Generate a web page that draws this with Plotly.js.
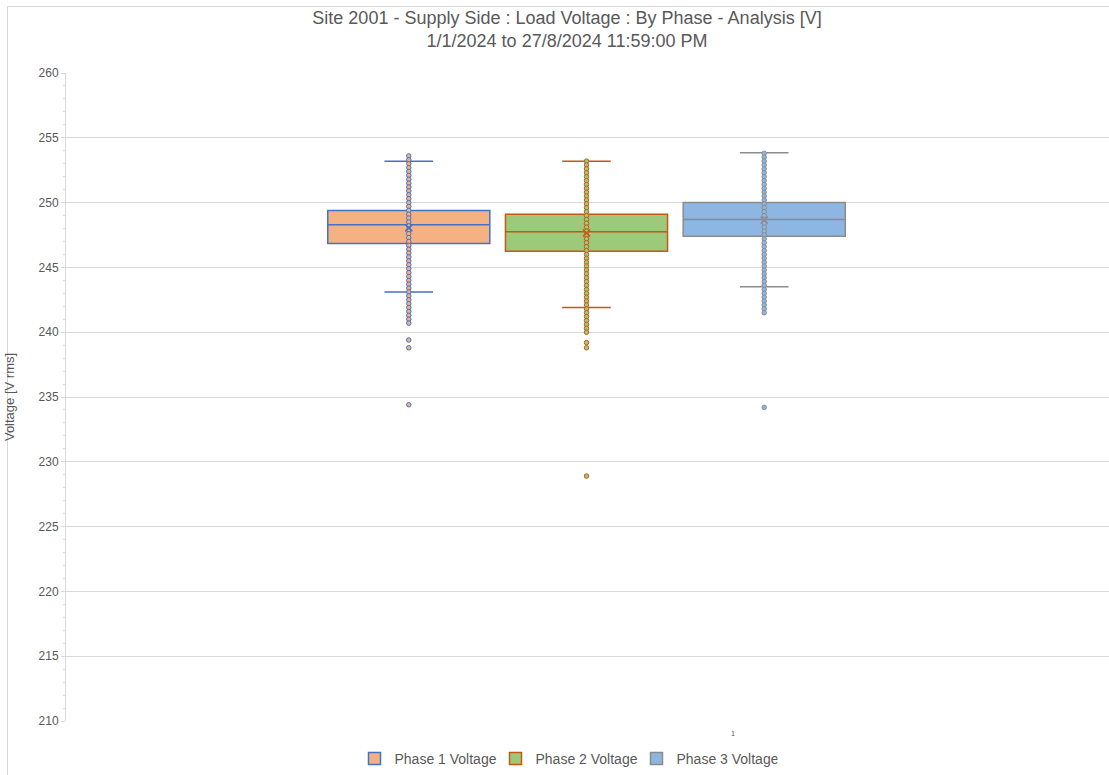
<!DOCTYPE html>
<html>
<head>
<meta charset="utf-8">
<script src="https://cdn.plot.ly/plotly-3.0.1.min.js"></script>
<style>
  html, body { margin: 0; padding: 0; background: #fff; overflow: hidden; }
  #frame { position: absolute; left: 7px; top: 6px; width: 1200px; height: 900px; z-index: 0;
           border-left: 1px solid #d9d9d9; border-top: 1px solid #d9d9d9; pointer-events: none; }
  #chart { position: absolute; left: 0; top: 0; width: 1109px; height: 775px; z-index: 1; }
</style>
</head>
<body>
<div id="frame"></div>
<div id="chart"></div>
<script>
// ---- data ----
const category = '1';
const seriesNames = ['Phase 1 Voltage', 'Phase 2 Voltage', 'Phase 3 Voltage'];
const lowerWhisker = [243.1, 241.9, 243.5];
const q1Values     = [246.85, 246.25, 247.4];
const medianValues = [248.3, 247.75, 248.7];
const q3Values     = [249.4, 249.1, 250.0];
const upperWhisker = [253.2, 253.2, 253.85];
const meanValues   = [248.05, 247.65, 248.65];

const phase1Points = [253.6, 253.3, 253.0, 252.7, 252.4, 252.1, 251.8, 251.5, 251.2, 250.9,
  250.6, 250.3, 250.0, 249.7, 249.4, 249.1, 248.8, 248.5, 248.2, 247.9, 247.6, 247.3, 247.0,
  246.7, 246.4, 246.1, 245.8, 245.5, 245.2, 244.9, 244.6, 244.3, 244.0, 243.7, 243.4, 243.1,
  242.8, 242.5, 242.2, 241.9, 241.6, 241.3, 241.0, 240.7, 239.4, 238.8, 234.4];
const phase2Points = [253.2, 252.9, 252.6, 252.3, 252.0, 251.7, 251.4, 251.1, 250.8, 250.5,
  250.2, 249.9, 249.6, 249.3, 249.0, 248.7, 248.4, 248.1, 247.8, 247.5, 247.2, 246.9, 246.6,
  246.3, 246.0, 245.7, 245.4, 245.1, 244.8, 244.5, 244.2, 243.9, 243.6, 243.3, 243.0, 242.7,
  242.4, 242.1, 241.8, 241.5, 241.2, 240.9, 240.6, 240.3, 240.0, 239.2, 238.8, 228.9];
const phase3Points = [253.8, 253.5, 253.2, 252.9, 252.6, 252.3, 252.0, 251.7, 251.4, 251.1,
  250.8, 250.5, 250.2, 249.9, 249.6, 249.3, 249.0, 248.7, 248.4, 248.1, 247.8, 247.5, 247.2,
  246.9, 246.6, 246.3, 246.0, 245.7, 245.4, 245.1, 244.8, 244.5, 244.2, 243.9, 243.6, 243.3,
  243.0, 242.7, 242.4, 242.1, 241.8, 241.5, 234.2];
const pointSets = [phase1Points, phase2Points, phase3Points];

const yTickVals = [210, 215, 220, 225, 230, 235, 240, 245, 250, 255, 260];

// ---- styles ----
const fills = ['#F4B183', '#9DC97B', '#8DB6E2'];
const lines = ['#4472C4', '#C65911', '#8C8C8C'];
const FONT = 'Liberation Sans, Arial, sans-serif';
const GAP = 0.2;

const traces = [];
for (let i = 0; i < 3; i++) {
  traces.push({
    type: 'box', name: seriesNames[i], x: [category],
    q1: [q1Values[i]], median: [medianValues[i]], q3: [q3Values[i]],
    lowerfence: [lowerWhisker[i]], upperfence: [upperWhisker[i]],
    fillcolor: fills[i], line: { color: lines[i], width: 1.5 },
    whiskerwidth: 0.3, offsetgroup: 'p' + i, boxpoints: false, hoverinfo: 'y'
  });
}
for (let i = 0; i < 3; i++) {
  traces.push({
    type: 'scatter', mode: 'markers', showlegend: false, offsetgroup: 'p' + i,
    x: pointSets[i].map(() => category), y: pointSets[i],
    marker: { symbol: 'circle', size: 4.5, color: fills[i], line: { color: lines[i], width: 1 } }
  });
  traces.push({
    type: 'scatter', mode: 'markers', showlegend: false, offsetgroup: 'p' + i,
    x: [category], y: [meanValues[i]],
    marker: { symbol: 'x-thin', size: 7, color: lines[i], line: { color: lines[i], width: 1.5 } }
  });
}

const layout = {
  width: 1109, height: 775,
  margin: { l: 66, r: 0, t: 73, b: 52 },
  paper_bgcolor: 'rgba(0,0,0,0)', plot_bgcolor: '#ffffff',
  font: { family: FONT, color: '#595959', size: 12 },
  title: {
    text: 'Site 2001 - Supply Side : Load Voltage : By Phase - Analysis [V]<br>1/1/2024 to 27/8/2024 11:59:00 PM',
    font: { family: FONT, size: 18, color: '#595959' },
    x: 567 / 1109, xref: 'container', xanchor: 'center',
    y: 1 - 24 / 775, yref: 'container', yanchor: 'middle'
  },
  boxmode: 'group', boxgap: GAP, boxgroupgap: 0.088,
  scattermode: 'group', scattergap: GAP,
  showlegend: true,
  legend: {
    orientation: 'h', x: (566 - 66) / 1043, xanchor: 'center', y: -(761 - 723) / 650, yanchor: 'middle',
    font: { family: FONT, size: 14, color: '#595959' }, traceorder: 'normal',
    bgcolor: 'rgba(0,0,0,0)',
    itemwidth: 30, entrywidth: 96, entrywidthmode: 'pixels'
  },
  xaxis: {
    type: 'category', range: [-0.781, 0.784], showgrid: false, zeroline: false,
    showline: false, showticklabels: false, ticks: '', fixedrange: true
  },
  yaxis: {
    range: [210, 260], tickvals: yTickVals, showgrid: true, gridcolor: '#d9d9d9', gridwidth: 1,
    zeroline: false, showline: true, linecolor: '#d9d9d9', linewidth: 1,
    ticks: 'outside', ticklen: 4, tickcolor: '#d9d9d9',
    minor: { dtick: 1, ticks: 'outside', ticklen: 2, tickcolor: '#d9d9d9', showgrid: false },
    tickfont: { family: FONT, size: 12, color: '#595959' },
    title: { text: 'Voltage [V rms]', font: { family: FONT, size: 13, color: '#595959' }, standoff: 21 }
  },
  annotations: [{
    text: category, xref: 'paper', yref: 'paper', x: (733 - 66) / 1043, y: -(736 - 723) / 650,
    xanchor: 'center', yanchor: 'middle', showarrow: false,
    font: { family: FONT, size: 7, color: '#595959' }
  }]
};

Plotly.newPlot('chart', traces, layout, { displayModeBar: false, staticPlot: true });
</script>
</body>
</html>
